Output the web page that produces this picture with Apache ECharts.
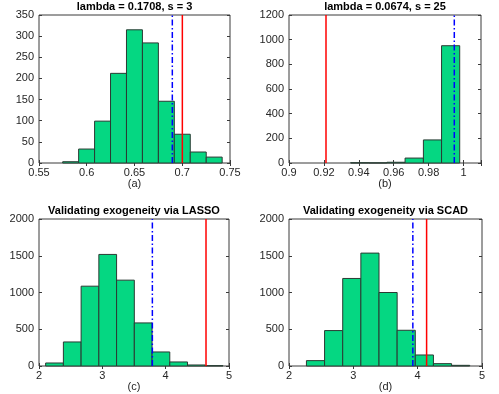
<!DOCTYPE html>
<html>
<head>
<meta charset="utf-8">
<script src="https://cdn.jsdelivr.net/npm/echarts@6/dist/echarts.min.js"></script>
<style>
  html, body { margin: 0; padding: 0; background: #fff; }
  #main { width: 499px; height: 394px; }
</style>
</head>
<body>
<div id="main"></div>
<script>
// histogram bin edges and counts
var edgesA = [0.5748, 0.5915, 0.6082, 0.6249, 0.6416, 0.6583, 0.6750, 0.6917, 0.7084, 0.7251, 0.7418];
var countsA = [3, 33, 99, 212, 315, 284, 146, 68, 26, 14];
var edgesB = [0.9353, 0.9457, 0.9561, 0.9665, 0.9770, 0.9874, 0.9978];
var countsB = [2, 1, 6, 40, 187, 951];
var edgesC = [2.105, 2.385, 2.665, 2.945, 3.225, 3.505, 3.785, 4.065, 4.345, 4.625, 4.905];
var countsC = [41, 327, 1086, 1518, 1168, 586, 191, 55, 14, 5];
var edgesD = [2.271, 2.553, 2.835, 3.117, 3.399, 3.681, 3.963, 4.245, 4.527, 4.809];
var countsD = [73, 482, 1191, 1536, 1000, 486, 150, 32, 9];

// reference lines: blue dash-dot and red solid
var blueLines = [0.6896, 0.9947, 3.79, 3.925];
var redLines = [0.7001, 0.9212, 4.637, 4.139];

var titles = ['lambda = 0.1708, s = 3', 'lambda = 0.0674, s = 25',
              'Validating exogeneity via LASSO', 'Validating exogeneity via SCAD'];
var captions = ['(a)', '(b)', '(c)', '(d)'];

var xRanges = [[0.55, 0.75, 0.05], [0.9, 1.01, 0.02], [2, 5, 1], [2, 5, 1]];
var yRanges = [[0, 350, 50], [0, 1200, 200], [0, 2000, 500], [0, 2000, 500]];

var allEdges = [edgesA, edgesB, edgesC, edgesD];
var allCounts = [countsA, countsB, countsC, countsD];

var grids = [
  { left: 39, top: 15, width: 191, height: 148 },
  { left: 289, top: 15, width: 192, height: 148 },
  { left: 39, top: 219, width: 190, height: 147 },
  { left: 289, top: 219, width: 193, height: 147 }
];

var FONT = 'Liberation Sans, Arial, sans-serif';
var TXT = '#262626';

function renderBar(params, api) {
  var p0 = api.coord([api.value(0), api.value(2)]);
  var p1 = api.coord([api.value(1), 0]);
  return {
    type: 'rect',
    shape: { x: p0[0], y: p0[1], width: p1[0] - p0[0], height: p1[1] - p0[1] },
    style: { fill: '#05d782', stroke: '#2b3a33', lineWidth: 1 }
  };
}

var xAxes = [], yAxes = [], series = [], titleList = [];
grids.forEach(function (g, i) {
  g.show = true;
  g.borderColor = '#3a3a3a';
  g.borderWidth = 1;
  g.backgroundColor = '#fff';
  var xr = xRanges[i], yr = yRanges[i];
  var xfmt = function (v) {
    var k = Math.round(v / xr[2]);
    if (Math.abs(v - k * xr[2]) > 1e-6) return '';
    return String(+v.toFixed(4));
  };
  xAxes.push({
    type: 'value', gridIndex: i, position: 'bottom',
    min: xr[0], max: xr[1], interval: xr[2],
    axisLine: { show: false }, splitLine: { show: false },
    axisTick: { inside: true, length: 3, lineStyle: { color: '#3a3a3a' } },
    axisLabel: { color: TXT, fontSize: 11, fontFamily: FONT, margin: 4, formatter: xfmt },
    name: captions[i], nameLocation: 'middle', nameGap: 15,
    nameTextStyle: { color: TXT, fontSize: 11, fontFamily: FONT }
  });
  xAxes.push({
    type: 'value', gridIndex: i, position: 'top',
    min: xr[0], max: xr[1], interval: xr[2],
    axisLine: { show: false }, splitLine: { show: false },
    axisTick: { inside: true, length: 3, lineStyle: { color: '#3a3a3a' } },
    axisLabel: { show: false }
  });
  yAxes.push({
    type: 'value', gridIndex: i, position: 'left',
    min: yr[0], max: yr[1], interval: yr[2],
    axisLine: { show: false }, splitLine: { show: false },
    axisTick: { inside: true, length: 3, lineStyle: { color: '#3a3a3a' } },
    axisLabel: { color: TXT, fontSize: 11, fontFamily: FONT, margin: 5,
                 formatter: function (v) { return String(v); } }
  });
  yAxes.push({
    type: 'value', gridIndex: i, position: 'right',
    min: yr[0], max: yr[1], interval: yr[2],
    axisLine: { show: false }, splitLine: { show: false },
    axisTick: { inside: true, length: 3, lineStyle: { color: '#3a3a3a' } },
    axisLabel: { show: false }
  });

  var e = allEdges[i], c = allCounts[i];
  var data = c.map(function (v, k) { return [e[k], e[k + 1], v]; });
  series.push({
    type: 'custom', xAxisIndex: 2 * i, yAxisIndex: 2 * i,
    renderItem: renderBar, encode: { x: [0, 1], y: 2 }, data: data, z: 2
  });
  series.push({
    type: 'line', xAxisIndex: 2 * i, yAxisIndex: 2 * i, symbol: 'none', z: 3,
    data: [[blueLines[i], yr[0]], [blueLines[i], yr[1]]],
    lineStyle: { color: '#0000ff', width: 1.5, type: [6, 2.5, 1.5, 2.5] }
  });
  series.push({
    type: 'line', xAxisIndex: 2 * i, yAxisIndex: 2 * i, symbol: 'none', z: 3,
    data: [[redLines[i], yr[0]], [redLines[i], yr[1]]],
    lineStyle: { color: '#ff0000', width: 1.5 }
  });

  titleList.push({
    text: titles[i], left: g.left + g.width / 2, top: g.top - 14, textAlign: 'center',
    padding: 0,
    textStyle: { color: '#000', fontSize: 11, fontWeight: 'bold', fontFamily: FONT }
  });
});

var chart = echarts.init(document.getElementById('main'));
chart.setOption({
  animation: false,
  title: titleList,
  grid: grids,
  xAxis: xAxes,
  yAxis: yAxes,
  series: series
});
</script>
</body>
</html>
